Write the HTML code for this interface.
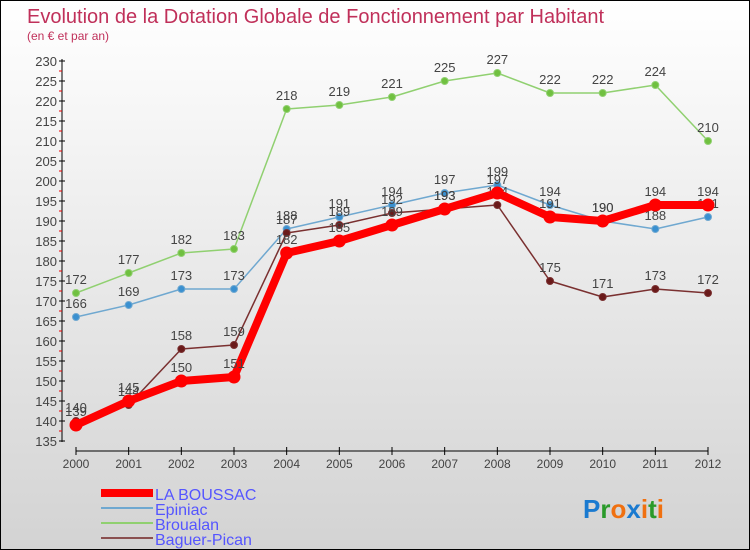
<!DOCTYPE html>
<html><head><meta charset="utf-8"><style>
body{margin:0}
#c{width:748px;height:548px;border:1px solid #000;background:linear-gradient(#fff,#d3d3d3);position:relative;font-family:"Liberation Sans","DejaVu Sans",sans-serif}
</style></head><body>
<div id="c">
<svg id="s" width="748" height="548" style="position:absolute;left:0;top:0">
<text x="26" y="22" font-size="20" fill="#c0305a">Evolution de la Dotation Globale de Fonctionnement par Habitant</text>
<text x="26" y="39" font-size="12" fill="#c0305a">(en € et par an)</text>
<g id="axes"></g><g id="series"></g>
<g>
<rect x="100" y="488" width="52" height="8" fill="#f00"/>
<text x="154" y="499" font-size="16" fill="#55f">LA BOUSSAC</text>
<line x1="100" y1="507" x2="152" y2="507" stroke="#6fa8d0" stroke-width="2"/>
<text x="154" y="514" font-size="16" fill="#55f">Epiniac</text>
<line x1="100" y1="522" x2="152" y2="522" stroke="#90d070" stroke-width="2"/>
<text x="154" y="529" font-size="16" fill="#55f">Broualan</text>
<line x1="100" y1="537" x2="152" y2="537" stroke="#8a5050" stroke-width="2"/>
<text x="154" y="544" font-size="16" fill="#55f">Baguer-Pican</text>
</g>
<text x="582" y="517" font-size="26" font-weight="bold"><tspan fill="#1a7ad0">P</tspan><tspan fill="#2a9a2a">r</tspan><tspan fill="#f07010">o</tspan><tspan fill="#1a7ad0">x</tspan><tspan fill="#f07010">i</tspan><tspan fill="#2a9a2a">t</tspan><tspan fill="#f07010">i</tspan></text>
</svg></div>
<script>
const years=[2000,2001,2002,2003,2004,2005,2006,2007,2008,2009,2010,2011,2012];
const laBoussac=[139,145,150,151,182,185,189,193,197,191,190,194,194];
const epiniac=[166,169,173,173,188,191,194,197,199,194,190,188,191];
const broualan=[172,177,182,183,218,219,221,225,227,222,222,224,210];
const baguerPican=[140,144,158,159,187,189,192,193,194,175,171,173,172];
const yTicks=[135,140,145,150,155,160,165,170,175,180,185,190,195,200,205,210,215,220,225,230];
const NS="http://www.w3.org/2000/svg";
const X=i=>75+i*(632/12), Y=v=>60+(230-v)*4;
function mk(t,a,p){const e=document.createElementNS(NS,t);for(const k in a)e.setAttribute(k,a[k]);p.appendChild(e);return e;}
const ax=document.getElementById('axes');
let l=mk('line',{x1:61,y1:58,x2:61,y2:441,stroke:'#000'},ax);

l=mk('line',{x1:75,y1:450,x2:707,y2:450,stroke:'#000'},ax);

yTicks.forEach(v=>{const y=Y(v);mk('line',{x1:58,y1:y,x2:64,y2:y,stroke:'#000'},ax);
if(v>135)mk('line',{x1:58,y1:y+10,x2:61,y2:y+10,stroke:'#e00'},ax);
const t=mk('text',{x:56,y:y+5,'font-size':13,fill:'#444','text-anchor':'end'},ax);t.textContent=v;
});
years.forEach((yr,i)=>{mk('line',{x1:X(i),y1:446,x2:X(i),y2:454,stroke:'#000'},ax);
const t=mk('text',{x:X(i),y:467,'font-size':12,fill:'#444','text-anchor':'middle'},ax);t.textContent=yr;
});
const sg=document.getElementById('series');
function series(d,name,col,w,r,mc){const g=mk('g',{},sg);

mk('polyline',{points:d.map((v,i)=>X(i)+','+Y(v)).join(' '),fill:'none',stroke:col,'stroke-width':w,'stroke-linejoin':'round'},g);
d.forEach((v,i)=>{const c=mk('circle',{cx:X(i),cy:Y(v),r:r,fill:mc,stroke:col,'stroke-width':1},g);

const t=mk('text',{x:X(i),y:Y(v)-9,'font-size':13,fill:'#444','text-anchor':'middle'},g);t.textContent=v;
});}
series(broualan,'broualan','#90d070',1.5,3.5,'#70c040');
series(epiniac,'epiniac','#6fa8d0',1.5,3.5,'#3a90d0');
series(baguerPican,'baguer-pican','#7a3030',1.5,3.5,'#6a1a1a');
series(laBoussac,'la-boussac','#f00',8,6,'#f00');
</script></body></html>
